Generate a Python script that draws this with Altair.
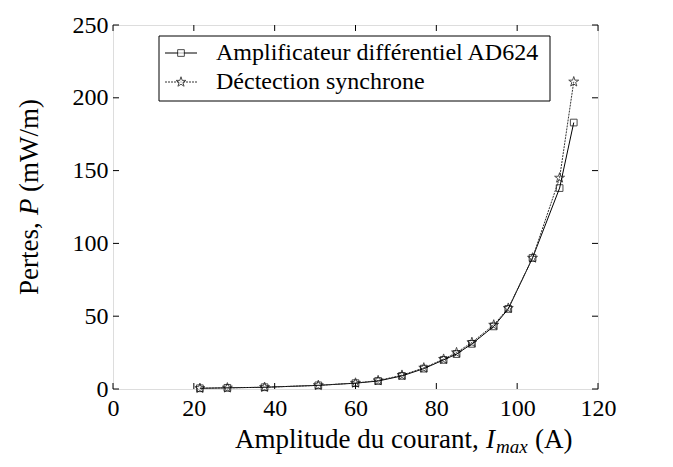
import altair as alt
import pandas as pd

# ---- data ----
current = [21.5, 28.3, 37.5, 50.8, 60.0, 65.6, 71.5, 76.9, 81.8, 85.0, 88.8, 94.2, 97.8, 103.8, 110.5, 114.0]
p_ad624 = [0.5, 0.8, 1.2, 2.5, 4.0, 5.5, 9.0, 14.0, 20.0, 24.0, 31.0, 43.0, 55.0, 90.0, 138.0, 183.0]
p_sync = [0.5, 0.8, 1.2, 2.5, 4.1, 5.8, 9.5, 14.5, 20.5, 25.0, 32.0, 44.0, 55.5, 90.0, 145.0, 211.0]
series_names = ["Amplificateur différentiel AD624", "Déctection synchrone"]
x_ticks = [0, 20, 40, 60, 80, 100, 120]
y_ticks = [0, 50, 100, 150, 200, 250]
x_title_parts = ["Amplitude du courant,", "I", "max", "(A)"]
y_title_parts = ["Pertes,", "P", "(mW/m)"]

W, H = 485, 364
FONT = "Times New Roman, Liberation Serif, DejaVu Serif, serif"
STAR = ("M0,-1L0.2245,-0.309L0.951,-0.309L0.363,0.118L0.588,0.809L0,0.427"
        "L-0.588,0.809L-0.363,0.118L-0.951,-0.309L-0.2245,-0.309Z")

df_a = pd.DataFrame({"I": current, "P": p_ad624})
df_s = pd.DataFrame({"I": current, "P": p_sync})

xs = alt.Scale(domain=[0, 120], nice=False)
ys = alt.Scale(domain=[0, 250], nice=False)

x_axis = alt.Axis(values=x_ticks, title=None, tickSize=0, domain=False, grid=False,
                  labelFont=FONT, labelFontSize=24, labelColor="black", labelPadding=7,
                  labelFlush=False)
y_axis = alt.Axis(values=y_ticks, title=None, tickSize=0, domain=False, grid=False,
                  labelFont=FONT, labelFontSize=24, labelColor="black", labelPadding=5,
                  labelFlush=False)

line_a = alt.Chart(df_a).mark_line(color="black", strokeWidth=1).encode(
    x=alt.X("I:Q", scale=xs, axis=x_axis), y=alt.Y("P:Q", scale=ys, axis=y_axis))
line_s = alt.Chart(df_s).mark_line(color="#333", strokeWidth=1, strokeDash=[2, 1]).encode(
    x=alt.X("I:Q", scale=xs, axis=None), y=alt.Y("P:Q", scale=ys, axis=None))
pts_a = alt.Chart(df_a).mark_point(shape="square", filled=False, color="black", size=45,
                                   strokeWidth=1).encode(
    x=alt.X("I:Q", scale=xs, axis=None), y=alt.Y("P:Q", scale=ys, axis=None))
pts_s = alt.Chart(df_s).mark_point(shape=STAR, filled=False, color="black", size=110,
                                   strokeWidth=1).encode(
    x=alt.X("I:Q", scale=xs, axis=None), y=alt.Y("P:Q", scale=ys, axis=None))

# inward ticks on all four sides
xt = pd.DataFrame({"v": x_ticks})
yt = pd.DataFrame({"v": y_ticks})
tick_b = alt.Chart(xt).mark_rule(color="black").encode(
    x=alt.X("v:Q", scale=xs, axis=None), y=alt.value(H), y2=alt.value(H - 6))
tick_t = alt.Chart(xt).mark_rule(color="black").encode(
    x=alt.X("v:Q", scale=xs, axis=None), y=alt.value(0), y2=alt.value(6))
tick_l = alt.Chart(yt).mark_rule(color="black").encode(
    y=alt.Y("v:Q", scale=ys, axis=None), x=alt.value(0), x2=alt.value(6))
tick_r = alt.Chart(yt).mark_rule(color="black").encode(
    y=alt.Y("v:Q", scale=ys, axis=None), x=alt.value(W), x2=alt.value(W - 6))

# manual legend
one = pd.DataFrame({"k": [0]})
names = pd.DataFrame({"name": series_names, "row": [0, 1]})
LX0, LX1, LY0, LY1 = 46, 437, 11, 76
ROW_Y = [28, 57]
LL0, LL1, LM, LT = 52, 84, 68, 103
leg_box = alt.Chart(one).mark_rect(fill="white", stroke="black", strokeWidth=1).encode(
    x=alt.value(LX0), x2=alt.value(LX1), y=alt.value(LY0), y2=alt.value(LY1))
leg_line_a = alt.Chart(one).mark_rule(color="black", strokeWidth=1).encode(
    x=alt.value(LL0), x2=alt.value(LL1), y=alt.value(ROW_Y[0]))
leg_line_s = alt.Chart(one).mark_rule(color="#333", strokeWidth=1, strokeDash=[2, 1]).encode(
    x=alt.value(LL0), x2=alt.value(LL1), y=alt.value(ROW_Y[1]))
leg_pt_a = alt.Chart(one).mark_point(shape="square", filled=True, fill="white", stroke="black",
                                     strokeWidth=1, size=45).encode(
    x=alt.value(LM), y=alt.value(ROW_Y[0]))
leg_pt_s = alt.Chart(one).mark_point(shape=STAR, filled=True, fill="white", stroke="black",
                                     strokeWidth=1, size=110).encode(
    x=alt.value(LM), y=alt.value(ROW_Y[1]))
leg_text_a = alt.Chart(names).transform_filter("datum.row == 0").mark_text(
    font=FONT, fontSize=24, align="left", baseline="middle", color="black").encode(
    x=alt.value(LT), y=alt.value(ROW_Y[0]), text="name:N")
leg_text_s = alt.Chart(names).transform_filter("datum.row == 1").mark_text(
    font=FONT, fontSize=24, align="left", baseline="middle", color="black").encode(
    x=alt.value(LT), y=alt.value(ROW_Y[1]), text="name:N")

# axis titles built from pieces (italic symbol + subscript)
xtp = pd.DataFrame({"t": x_title_parts, "i": [0, 1, 2, 3]})
XB = 423
XS = 122
xt0 = alt.Chart(xtp).transform_filter("datum.i == 0").mark_text(
    font=FONT, fontSize=27, align="left", baseline="alphabetic", color="black").encode(
    x=alt.value(XS), y=alt.value(XB), text="t:N")
xt1 = alt.Chart(xtp).transform_filter("datum.i == 1").mark_text(
    font=FONT, fontSize=27, fontStyle="italic", align="left", baseline="alphabetic",
    color="black").encode(x=alt.value(XS + 251), y=alt.value(XB), text="t:N")
xt2 = alt.Chart(xtp).transform_filter("datum.i == 2").mark_text(
    font=FONT, fontSize=19, fontStyle="italic", align="left", baseline="alphabetic",
    color="black").encode(x=alt.value(XS + 261), y=alt.value(XB + 5), text="t:N")
xt3 = alt.Chart(xtp).transform_filter("datum.i == 3").mark_text(
    font=FONT, fontSize=27, align="left", baseline="alphabetic", color="black").encode(
    x=alt.value(XS + 300), y=alt.value(XB), text="t:N")

ytp = pd.DataFrame({"t": y_title_parts, "i": [0, 1, 2]})
YX = -75
YS = 270
yt0 = alt.Chart(ytp).transform_filter("datum.i == 0").mark_text(
    font=FONT, fontSize=27, angle=270, align="left", baseline="alphabetic",
    color="black").encode(x=alt.value(YX), y=alt.value(YS), text="t:N")
yt1 = alt.Chart(ytp).transform_filter("datum.i == 1").mark_text(
    font=FONT, fontSize=27, fontStyle="italic", angle=270, align="left",
    baseline="alphabetic", color="black").encode(
    x=alt.value(YX), y=alt.value(YS - 80), text="t:N")
yt2 = alt.Chart(ytp).transform_filter("datum.i == 2").mark_text(
    font=FONT, fontSize=27, angle=270, align="left", baseline="alphabetic",
    color="black").encode(x=alt.value(YX), y=alt.value(YS - 103), text="t:N")

chart = alt.layer(
    line_a, line_s, pts_a, pts_s, tick_b, tick_t, tick_l, tick_r,
    leg_box, leg_line_a, leg_line_s, leg_pt_a, leg_pt_s, leg_text_a, leg_text_s,
    xt0, xt1, xt2, xt3, yt0, yt1, yt2,
).resolve_axis(x="independent", y="independent").properties(
    width=W, height=H,
    autosize=alt.AutoSizeParams(type="none"),
    padding={"left": 105, "top": 17, "right": 50, "bottom": 70},
).configure_view(stroke="black", strokeWidth=1).configure(background="white")

chart.save("out.html", embed_options={"renderer": "svg", "actions": False})
